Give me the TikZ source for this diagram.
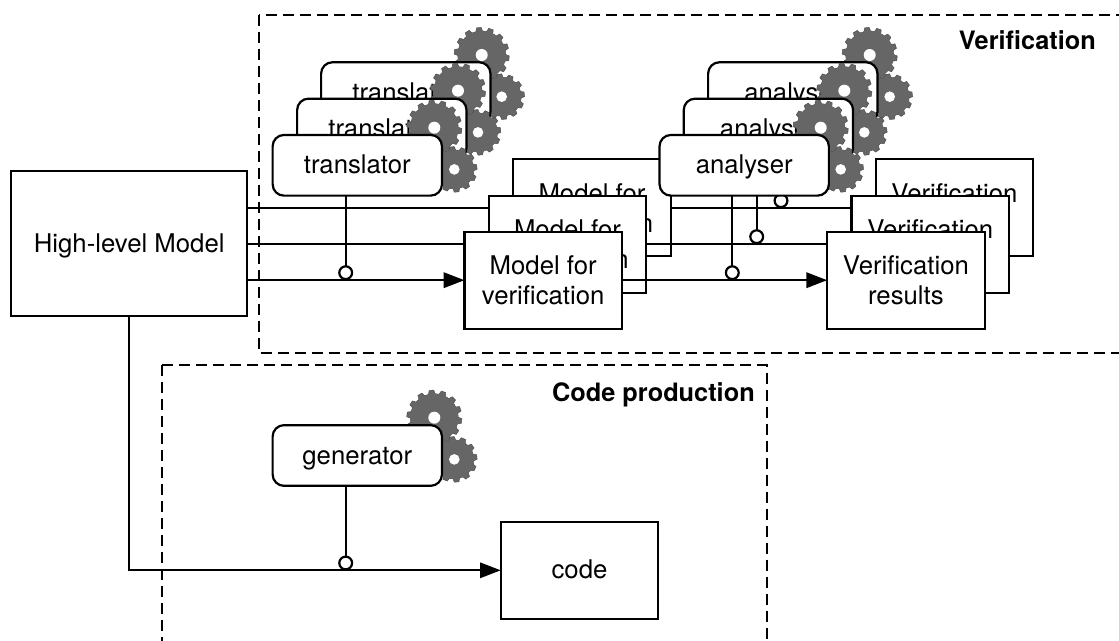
\documentclass[tikz,border=0pt]{standalone}
\usepackage{fontspec}
\setmainfont{TeX Gyre Heros}
\usetikzlibrary{arrows.meta}
\definecolor{gearc}{HTML}{666666}
\tikzset{
  lw/.style={line width=1.65pt,draw=black},
  boxn/.style={lw,fill=white,rectangle,inner sep=0pt,outer sep=0pt,minimum width=118.2pt,minimum height=72.8pt,align=center,font=\fontsize{19.3}{22.5}\selectfont},
  oneline/.style={text height=15pt,text depth=2pt},
  tooln/.style={lw,fill=white,rectangle,rounded corners=8.5pt,inner sep=0pt,outer sep=0pt,minimum width=127pt,minimum height=45.5pt,oneline,font=\fontsize{19.3}{22.5}\selectfont},
  joint/.style={lw,fill=white,circle,inner sep=0pt,outer sep=0pt,minimum size=9.6pt},
  frameline/.style={line width=1.65pt,draw=black,dash pattern=on 8.25pt off 4.5pt},
  flow/.style={lw,-{Triangle[length=15.5pt,width=11.5pt]}},
  link/.style={lw},
  titlen/.style={inner sep=0pt,font=\fontsize{19}{22}\selectfont\bfseries}
}
% cog: x, y, outer radius, root radius, teeth, hole radius
\newcommand\cog[6]{%
  \begin{scope}[shift={(#1,#2)}]
    \pgfmathsetmacro\cogstep{360/#5}
    \fill[gearc,draw=black!70,line width=.35pt] (0,0) circle (#4);
    \foreach \k in {1,...,#5}{
      \fill[gearc,draw=black!70,line width=.35pt,rotate=\k*\cogstep+6] (-3.5,-#4+.8) -- (-2.3,-#3) -- (2.3,-#3) -- (3.5,-#4+.8) -- cycle;
      \fill[gearc,rotate=\k*\cogstep+6] (-3.3,-#4+1.4) rectangle (3.3,-#4-.2);
    }
    \fill[gearc] (0,0) circle (#4-.1);
    \fill[white] (0,0) circle (#6);
  \end{scope}}
\newcommand\cogpair[2]{%
  \cog{#1}{#2}{27.5}{24}{14}{6}%
  \pgfmathsetmacro\sx{#1+20}\pgfmathsetmacro\sy{#2+41.7}%
  \cog{\sx}{\sy}{22.7}{19.5}{12}{5.3}}
\begin{document}
\begin{tikzpicture}[x=0.75pt,y=-0.75pt]
\useasboundingbox (0,0) rectangle (1119,641);
\clip (0,0) rectangle (1119,641);
\fill[white] (0,0) rectangle (1119,641);

% frames
\draw[frameline] (259,14.7) rectangle (1128,353);
\draw[frameline] (162.3,365) -- (766.7,365) -- (766.7,650);
\draw[frameline] (162.3,365) -- (162.3,650);
\node[titlen,anchor=base east] (vtitle) at (1096,50) {Verification};
\node[titlen,anchor=base east] (ctitle) at (755,401.7) {Code production};

% high-level model
\node[boxn,oneline,minimum width=177pt,minimum height=108.5pt] (hlm) at (129.2,243.7) {High-level Model};

% layer 3 (back)
\cogpair{481.7}{55}
\node[tooln] (t3) at (405.8,92.6) {translator};
\cogpair{869.7}{55}
\node[tooln] (a3) at (792.8,92.6) {analyser};
\node[boxn] (m3) at (592,207.8) {Model for\\verification};
\node[boxn] (r3) at (954.4,207.8) {Verification\\results};
\draw[flow] (hlm.east |- m3.west) -- (m3.west);
\draw[flow] (m3.east) -- (r3.west);
\node[joint] (j3) at (781,200.7) {};
\draw[link] (a3.south -| j3) -- (j3.north);

% layer 2
\cogpair{458}{90.7}
\node[tooln] (t2) at (381.8,129) {translator};
\cogpair{844.3}{90.7}
\node[tooln] (a2) at (768.4,129) {analyser};
\node[boxn] (m2) at (567.5,244.2) {Model for\\verification};
\node[boxn] (r2) at (930.2,244.2) {Verification\\results};
\draw[flow] (hlm.east |- m2.west) -- (m2.west);
\draw[flow] (m2.east) -- (r2.west);
\node[joint] (j2) at (756.7,236.7) {};
\draw[link] (a2.south -| j2) -- (j2.north);

% layer 1 (front)
\cogpair{434.3}{127.7}
\node[boxn] (m1) at (543.2,280.2) {Model for\\verification};
\node[boxn] (r1) at (905.9,280.2) {Verification\\results};
\draw[flow] (hlm.east |- m1.west) -- (m1.west);
\draw[flow] (m1.east) -- (r1.west);
\node[tooln] (t1) at (357.3,165.3) {translator};
\node[joint] (j1) at (345.7,272.7) {};
\draw[link] (t1.south -| j1) -- (j1.north);
\cogpair{820.7}{127.7}
\node[tooln] (a1) at (744.2,165.3) {analyser};
\node[joint] (j0) at (732.3,272.7) {};
\draw[link] (a1.south -| j0) -- (j0.north);

% code production
\cogpair{434.3}{417.7}
\node[tooln] (g) at (357.3,455.5) {generator};
\node[boxn,oneline] (code) at (579.5,570.3) {code};
\coordinate (bend) at (129.3,570.3);
\draw[flow] (hlm.south -| bend) -- (bend) -- (code.west);
\node[joint] (jg) at (345.7,563) {};
\draw[link] (g.south -| jg) -- (jg.north);
\end{tikzpicture}
\end{document}
